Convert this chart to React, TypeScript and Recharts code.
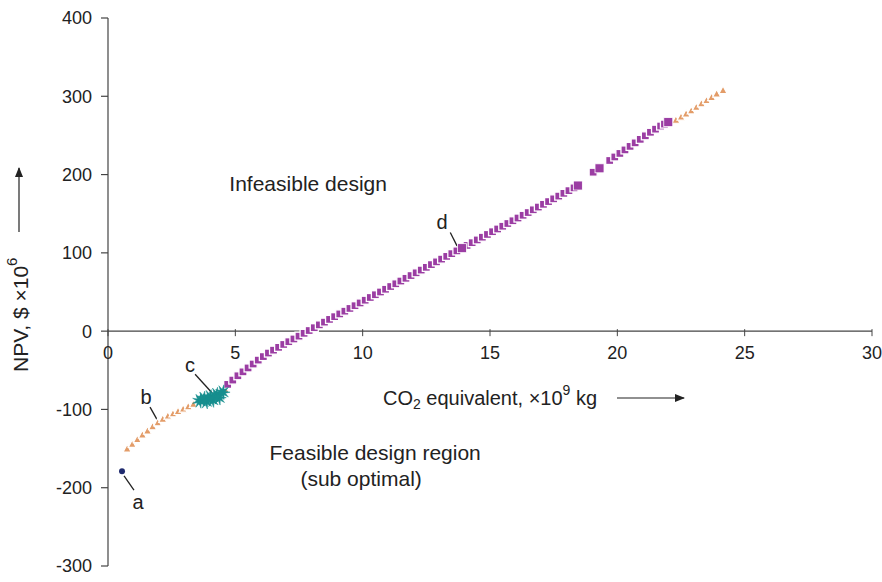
import React from 'react';
import { ScatterChart, Scatter, XAxis, YAxis, ReferenceLine, ReferenceDot } from 'recharts';

const FONT = '"Liberation Sans", Arial, Helvetica, sans-serif';

const xTicks = [0, 5, 10, 15, 20, 25, 30];
const yTicks = [-300, -200, -100, 0, 100, 200, 300, 400];

// design a (single point)
const designA = [{ x: 0.55, y: -179 }];

// lower orange branch (b)
const lowerOrange = [
  { x: 0.75, y: -150 }, { x: 0.95, y: -144 }, { x: 1.15, y: -138 }, { x: 1.35, y: -132 },
  { x: 1.55, y: -127 }, { x: 1.75, y: -121.5 }, { x: 1.95, y: -116.5 }, { x: 2.15, y: -112 },
  { x: 2.35, y: -108 }, { x: 2.55, y: -105 }, { x: 2.75, y: -102 }, { x: 2.95, y: -99 },
  { x: 3.15, y: -96 }, { x: 3.35, y: -93 }, { x: 4.6, y: -74 },
];

// cluster c
const clusterC = [
  { x: 3.6, y: -89 }, { x: 3.75, y: -86 }, { x: 3.85, y: -90 }, { x: 4.0, y: -84 },
  { x: 4.1, y: -88 }, { x: 4.25, y: -81 }, { x: 4.35, y: -85 }, { x: 4.5, y: -78 },
];

// main purple branch
const purpleMain = [
  { x: 4.7, y: -68 }, { x: 4.9, y: -62.5 }, { x: 5.1, y: -57 }, { x: 5.3, y: -52 },
  { x: 5.5, y: -47 }, { x: 5.7, y: -42 }, { x: 5.9, y: -37 }, { x: 6.1, y: -32.5 },
  { x: 6.3, y: -28 }, { x: 6.5, y: -24.3 }, { x: 6.7, y: -20.7 }, { x: 6.9, y: -17 },
  { x: 7.1, y: -13.5 }, { x: 7.3, y: -10 }, { x: 7.5, y: -6.4 }, { x: 7.7, y: -2.8 },
  { x: 7.9, y: 0.8 }, { x: 8.1, y: 4.4 }, { x: 8.3, y: 8 }, { x: 8.5, y: 11.5 },
  { x: 8.7, y: 15 }, { x: 8.9, y: 18.5 }, { x: 9.1, y: 22 }, { x: 9.3, y: 25.5 },
  { x: 9.5, y: 29 }, { x: 9.7, y: 32.5 }, { x: 9.9, y: 36 }, { x: 10.1, y: 39.5 },
  { x: 10.3, y: 43 }, { x: 10.5, y: 46.5 }, { x: 10.7, y: 50 }, { x: 10.9, y: 53.5 },
  { x: 11.1, y: 57 }, { x: 11.3, y: 60.5 }, { x: 11.5, y: 64 }, { x: 11.7, y: 67.5 },
  { x: 11.9, y: 71 }, { x: 12.1, y: 74.5 }, { x: 12.3, y: 78 }, { x: 12.5, y: 81.5 },
  { x: 12.7, y: 85 }, { x: 12.9, y: 88.5 }, { x: 13.1, y: 92 }, { x: 13.3, y: 95.5 },
  { x: 13.5, y: 99 }, { x: 13.7, y: 102.5 }, { x: 14.1, y: 109.5 }, { x: 14.3, y: 113 },
  { x: 14.5, y: 116.5 }, { x: 14.7, y: 120 }, { x: 14.9, y: 123.5 }, { x: 15.1, y: 127 },
  { x: 15.3, y: 130.5 }, { x: 15.5, y: 134 }, { x: 15.7, y: 137.5 }, { x: 15.9, y: 141 },
  { x: 16.1, y: 144.5 }, { x: 16.3, y: 148 }, { x: 16.5, y: 151.5 }, { x: 16.7, y: 155 },
  { x: 16.9, y: 158.5 }, { x: 17.1, y: 162 }, { x: 17.3, y: 165.5 }, { x: 17.5, y: 169 },
  { x: 17.7, y: 172.5 }, { x: 17.9, y: 176 }, { x: 18.1, y: 179.5 }, { x: 18.3, y: 183 },
];

const purpleUpper = [
  { x: 19.05, y: 203 }, { x: 19.7, y: 218 }, { x: 19.9, y: 222.5 }, { x: 20.1, y: 227 },
  { x: 20.3, y: 231.5 }, { x: 20.5, y: 236 }, { x: 20.7, y: 240.5 }, { x: 20.9, y: 245 },
  { x: 21.1, y: 249.5 }, { x: 21.3, y: 254 }, { x: 21.5, y: 258 }, { x: 21.7, y: 262 },
  { x: 21.85, y: 264.5 },
];

// highlighted designs (d and others)
const purpleKey = [
  { x: 13.9, y: 106 }, { x: 18.45, y: 186 }, { x: 19.3, y: 208 }, { x: 22.0, y: 267 },
];

// upper orange branch
const upperOrange = [
  { x: 22.3, y: 270 }, { x: 22.5, y: 274 }, { x: 22.7, y: 278 }, { x: 22.9, y: 282 },
  { x: 23.1, y: 286.5 }, { x: 23.3, y: 291 }, { x: 23.5, y: 295 }, { x: 23.7, y: 299 },
  { x: 23.9, y: 303.5 }, { x: 24.15, y: 308 },
];

const letterNotes = [
  { text: 'a', x: 1.18, y: -218 },
  { text: 'b', x: 1.49, y: -84 },
  { text: 'c', x: 3.22, y: -43 },
  { text: 'd', x: 13.12, y: 140 },
];

const pointers = [
  { x1: 0.63, y1: -185, x2: 1.02, y2: -203 },
  { x1: 1.65, y1: -97, x2: 1.96, y2: -115 },
  { x1: 3.42, y1: -55, x2: 4.09, y2: -79 },
  { x1: 13.44, y1: 126, x2: 13.75, y2: 106 },
];

const regionNotes = [
  { text: 'Infeasible design', x: 7.86, y: 189 },
  { text: 'Feasible design region', x: 10.49, y: -154.5 },
  { text: '(sub optimal)', x: 9.94, y: -188 },
];

const PURPLE = '#9b3da3';
const ORANGE = '#e39c68';
const TEAL = '#168e8e';
const NAVY = '#1f2a6e';
const INK = '#222';

const SmallSquare = (p: any) => (
  <rect x={p.cx - 4} y={p.cy - 4} width={8} height={8} fill={PURPLE} stroke="#fff" strokeWidth={1.3} />
);
const BigSquare = (p: any) => (
  <rect x={p.cx - 4.5} y={p.cy - 4.5} width={9} height={9} fill={PURPLE} stroke="#fff" strokeWidth={0.8} />
);
const SmallTriangle = (p: any) => (
  <path d={`M${p.cx - 4},${p.cy + 3.5} L${p.cx + 4},${p.cy + 3.5} L${p.cx},${p.cy - 4} Z`} fill={ORANGE} stroke="#fff" strokeWidth={1.2} />
);
const Star = (p: any) => {
  const pts: string[] = [];
  for (let i = 0; i < 18; i++) {
    const r = i % 2 === 0 ? 7.5 : 3;
    const a = (Math.PI * i) / 9;
    pts.push(`${p.cx + r * Math.cos(a)},${p.cy + r * Math.sin(a)}`);
  }
  return <polygon points={pts.join(' ')} fill={TEAL} stroke={TEAL} strokeWidth={0.5} />;
};
const Dot = (p: any) => <circle cx={p.cx} cy={p.cy} r={3} fill={NAVY} />;

const XTick = (label: string) => (p: any) => (
  <g>
    <line x1={p.cx} x2={p.cx} y1={p.cy - 2} y2={p.cy + 5} stroke="#444" strokeWidth={1} />
    <text x={p.cx} y={p.cy + 22} textAnchor="middle" dominantBaseline="central" fontSize={18} fontFamily={FONT} fill={INK}>
      {label}
    </text>
  </g>
);

const NoteText = (label: string, size: number) => (p: any) => (
  <text x={p.cx} y={p.cy} textAnchor="middle" dominantBaseline="central" fontSize={size} fontFamily={FONT} fill={INK}>
    {label}
  </text>
);

export default function App() {
  return (
    <div style={{ position: 'absolute', left: 0, top: 0, width: 882, height: 582, background: '#fff' }}>
      <ScatterChart width={882} height={582} margin={{ top: 18, right: 10, bottom: 16, left: 0 }}>
        <XAxis type="number" dataKey="x" domain={[0, 30]} ticks={xTicks} hide />
        <YAxis
          type="number"
          dataKey="y"
          domain={[-300, 400]}
          ticks={yTicks}
          width={108}
          tickSize={7}
          tickMargin={9}
          axisLine={{ stroke: '#444', strokeWidth: 1.2 }}
          tickLine={{ stroke: '#444', strokeWidth: 1.2 }}
          tick={{ fontSize: 18, fontFamily: FONT, fill: INK }}
        />
        <ReferenceLine y={0} stroke="#444" strokeWidth={1.2} />
        {xTicks.map((t) => (
          <ReferenceDot key={`xt${t}`} x={t} y={0} r={1} shape={XTick(String(t))} />
        ))}
        {pointers.map((s, i) => (
          <ReferenceLine
            key={`p${i}`}
            segment={[{ x: s.x1, y: s.y1 }, { x: s.x2, y: s.y2 }]}
            stroke={INK}
            strokeWidth={1.3}
          />
        ))}
        {letterNotes.map((n) => (
          <ReferenceDot key={n.text} x={n.x} y={n.y} r={1} shape={NoteText(n.text, 20)} />
        ))}
        {regionNotes.map((n) => (
          <ReferenceDot key={n.text} x={n.x} y={n.y} r={1} shape={NoteText(n.text, 21)} />
        ))}
        <Scatter data={lowerOrange} shape={SmallTriangle} isAnimationActive={false} />
        <Scatter data={upperOrange} shape={SmallTriangle} isAnimationActive={false} />
        <Scatter data={purpleMain} shape={SmallSquare} isAnimationActive={false} />
        <Scatter data={purpleUpper} shape={SmallSquare} isAnimationActive={false} />
        <Scatter data={purpleKey} shape={BigSquare} isAnimationActive={false} />
        <Scatter data={clusterC} shape={Star} isAnimationActive={false} />
        <Scatter data={designA} shape={Dot} isAnimationActive={false} />
      </ScatterChart>
      <svg width={882} height={582} style={{ position: 'absolute', left: 0, top: 0, pointerEvents: 'none' }}>
        <defs>
          <marker id="arrowHead" markerWidth="10" markerHeight="8" refX="9" refY="4" orient="auto" markerUnits="userSpaceOnUse">
            <path d="M0,0 L10,4 L0,8 Z" fill={INK} />
          </marker>
        </defs>
        <text x={383} y={398} dominantBaseline="central" fontSize={20} fontFamily={FONT} fill={INK}>
          CO<tspan fontSize={14} dy={6}>2</tspan>
          <tspan dy={-6}> equivalent, ×10</tspan>
          <tspan fontSize={14} dy={-8}>9</tspan>
          <tspan dy={8}> kg</tspan>
        </text>
        <line x1={617} y1={398} x2={684} y2={398} stroke={INK} strokeWidth={1.2} markerEnd="url(#arrowHead)" />
        <g transform="translate(20,372) rotate(-90)">
          <text x={0} y={0} dominantBaseline="central" fontSize={21} fontFamily={FONT} fill={INK}>
            NPV, $ ×10<tspan fontSize={15} dy={-9}>6</tspan>
          </text>
          <line x1={140} y1={-1} x2={204} y2={-1} stroke={INK} strokeWidth={1.2} markerEnd="url(#arrowHead)" />
        </g>
      </svg>
    </div>
  );
}
